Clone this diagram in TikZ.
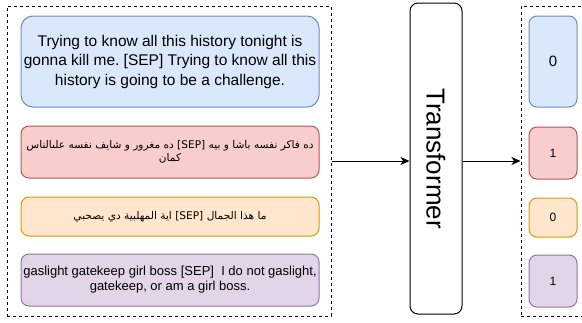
\documentclass[tikz,border=0pt]{standalone}
\usepackage{fontspec}
\setmainfont{Liberation Sans}
\newfontfamily\arabicfont[Script=Arabic]{DejaVu Sans}
\TeXXeTstate=1
\usetikzlibrary{arrows.meta}
\definecolor{bfill}{HTML}{DAE8FC}\definecolor{bline}{HTML}{6C8EBF}
\definecolor{rfill}{HTML}{F8CECC}\definecolor{rline}{HTML}{B85450}
\definecolor{ofill}{HTML}{FFE6CC}\definecolor{oline}{HTML}{D79B00}
\definecolor{pfill}{HTML}{E1D5E7}\definecolor{pline}{HTML}{9673A6}
\tikzset{
  frame/.style={draw=black, dash pattern=on 3pt off 3pt, line width=1pt, inner sep=0pt},
  card/.style={rectangle, rounded corners=8pt, line width=1pt, inner sep=0pt, align=center},
  bluecard/.style={card, draw=bline, fill=bfill},
  redcard/.style={card, draw=rline, fill=rfill},
  orangecard/.style={card, draw=oline, fill=ofill},
  purplecard/.style={card, draw=pline, fill=pfill},
  conn/.style={line width=1pt, -{Stealth[length=9pt,width=8pt,inset=2.5pt]}},
}
\frenchspacing
\begin{document}
\begin{tikzpicture}[x=1pt,y=-1pt]
\useasboundingbox (0,0) rectangle (582,322);
% frames
\node[frame, minimum width=324pt, minimum height=310pt] (inbox) at (169,161) {};
\node[frame, minimum width=64pt, minimum height=310pt] (outbox) at (553,161) {};
% input cards
\node[bluecard, rounded corners=12pt, minimum width=298pt, minimum height=91pt,
      font=\fontsize{15.5}{19.5}\selectfont] (in1) at (170,61.5)
  {Trying to know all this history tonight is\\gonna kill me. [SEP] Trying to know all this\\history is going to be a challenge.};
\node[redcard, minimum width=298pt, minimum height=52pt,
      font=\arabicfont\fontsize{10.6}{13.5}\selectfont] (in2) at (170,152)
  {\beginR ده فاكر نفسه باشا و بيه \beginL[SEP]\endL{} ده مغرور و شايف نفسه علىالناس\endR\\\beginR كمان\endR};
\node[orangecard, minimum width=298pt, minimum height=39pt,
      font=\arabicfont\fontsize{10.6}{13.5}\selectfont] (in3) at (170,216.5)
  {\beginR ما هذا الجمال \beginL[SEP]\endL{} اية المهلبية دي يصحبي\endR};
\node[purplecard, minimum width=298pt, minimum height=52pt,
      font=\fontsize{13}{15}\selectfont] (in4) at (170,280)
  {gaslight gatekeep girl boss [SEP]~ I do not gaslight,\\gatekeep, or am a girl boss.};
% transformer
\node[card, draw=black, fill=white, minimum width=52pt, minimum height=311pt] (tr) at (436,158.5) {};
\node[rotate=-90, font=\fontsize{26}{30}\selectfont, inner sep=0pt] (trlabel) at (tr.center) {Transformer};
% output cards
\node[bluecard, minimum width=48pt, minimum height=91pt, font=\fontsize{15}{18}\selectfont] (out1) at (553,61.5) {0};
\node[redcard, minimum width=48pt, minimum height=52pt, font=\fontsize{12}{14}\selectfont] (out2) at (553,153) {1};
\node[orangecard, minimum width=48pt, minimum height=39pt, font=\fontsize{12}{14}\selectfont] (out3) at (553,217.5) {0};
\node[purplecard, minimum width=48pt, minimum height=52pt, font=\fontsize{12}{14}\selectfont] (out4) at (553,281) {1};
% connectors
\draw[conn] (inbox.east) -- (inbox.east -| tr.west);
\draw[conn] (tr.east |- outbox.west) -- (outbox.west);
\end{tikzpicture}
\end{document}
